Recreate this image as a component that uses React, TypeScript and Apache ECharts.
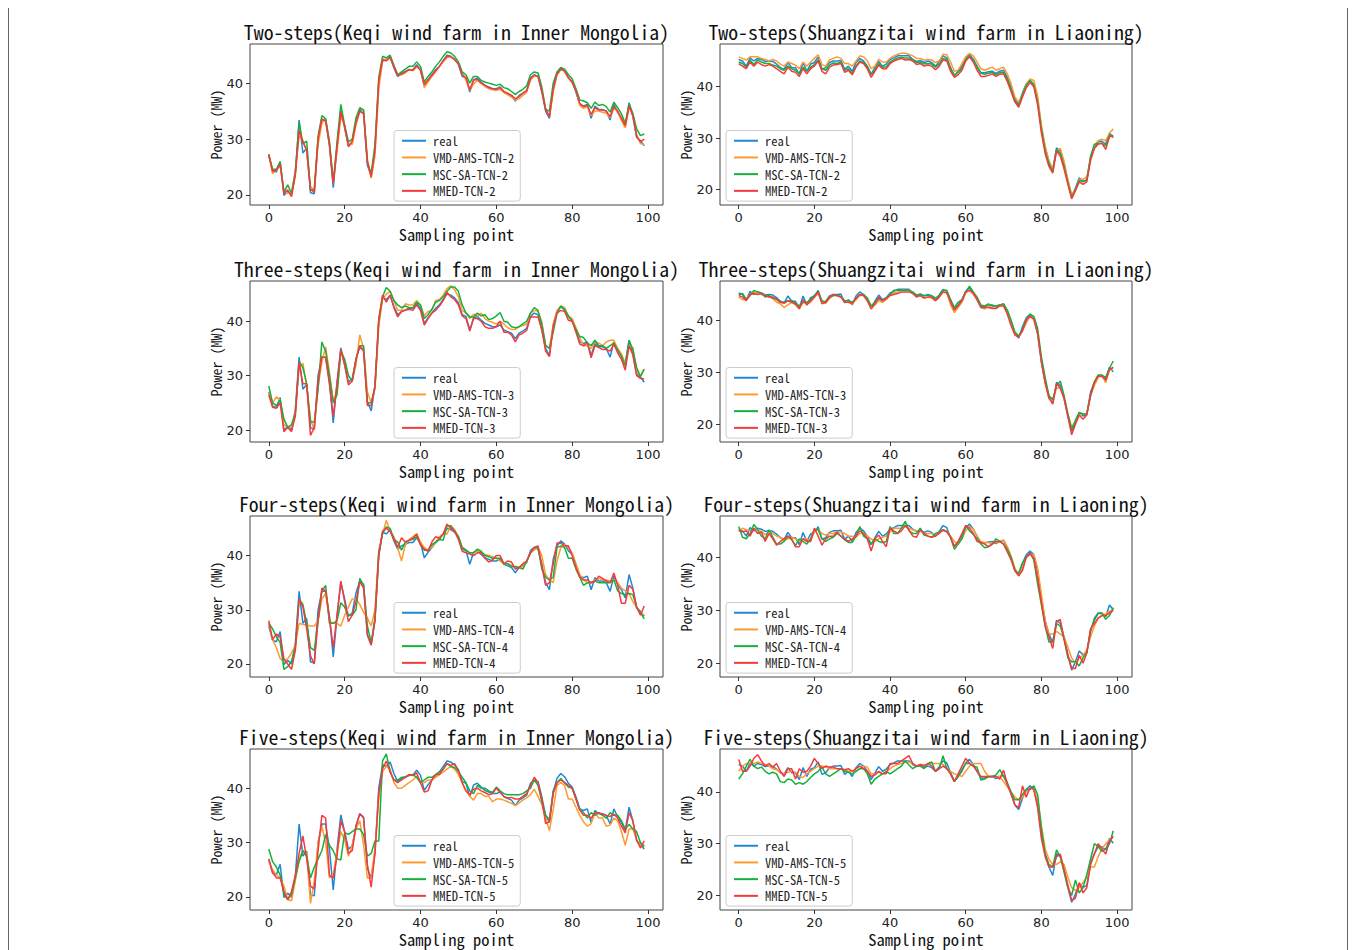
import React, { useEffect, useRef } from "react";
import * as echarts from "echarts";

// ---------------- DATA ----------------
const stepWords = ["Two", "Three", "Four", "Five"];
const stepNums = [2, 3, 4, 5];
const xTicks = [0, 20, 40, 60, 80, 100];
const yTicks = [20, 30, 40];

const K_real = [
  27.0,24.4,24.1,26.0,19.9,20.7,20.0,23.8,33.4,27.5,
  28.4,20.4,20.2,30.0,33.4,33.4,28.8,21.3,28.8,35.1,
  32.0,28.8,29.4,33.1,35.3,34.7,25.3,23.5,28.1,40.0,
  44.3,44.0,44.8,42.7,41.2,41.8,42.1,42.4,42.4,43.3,
  42.4,39.6,40.6,41.5,42.4,43.0,44.0,45.0,44.8,44.3,
  43.4,41.2,40.9,38.4,40.6,40.9,40.2,39.6,39.3,39.0,
  39.0,39.3,38.4,38.1,37.8,36.8,37.8,38.2,38.7,40.9,
  41.5,41.2,38.4,35.0,33.7,39.3,41.8,42.7,42.1,40.9,
  40.2,38.4,36.2,35.9,36.2,33.7,35.9,35.3,35.3,35.0,
  33.4,36.2,34.7,33.7,32.2,36.5,34.0,30.3,29.7,28.8,
];
const K2_vmd = [
  27.2,23.8,24.5,25.2,20.6,20.3,20.4,24.5,30.5,29.8,
  27.8,21.5,20.8,29.0,32.8,33.6,29.5,22.4,27.8,34.0,
  32.5,29.2,29.0,32.5,34.9,35.0,26.4,23.0,27.0,39.0,
  43.8,44.3,44.5,43.0,41.5,41.5,41.8,42.5,42.2,42.9,
  42.6,39.2,40.2,41.2,42.0,43.0,43.8,44.6,44.8,44.2,
  43.6,41.8,40.5,38.7,39.8,40.5,40.0,39.4,39.0,38.8,
  38.7,38.9,38.3,37.9,37.5,37.0,37.2,37.8,38.4,40.5,
  41.3,41.2,38.8,35.5,34.0,38.4,41.5,42.4,42.2,41.0,
  40.0,38.8,36.0,35.5,35.8,34.2,35.0,35.0,34.8,34.6,
  33.8,35.5,34.9,33.3,32.0,35.6,34.4,30.8,29.2,29.0,
];
const K2_msc = [
  27.2,24.6,24.6,25.9,20.5,21.8,20.3,24.0,33.0,29.2,
  29.6,20.8,21.0,30.5,34.2,33.6,29.5,22.2,29.5,36.2,
  32.5,29.5,30.0,33.8,35.6,35.2,25.8,23.8,29.0,41.0,
  44.8,44.5,45.0,43.2,41.5,42.0,42.5,43.0,43.0,43.8,
  43.0,40.2,41.2,42.0,43.0,43.8,44.8,45.6,45.4,44.8,
  43.8,42.0,41.5,40.0,41.2,41.2,40.5,40.2,40.0,39.8,
  39.6,39.8,39.2,39.0,38.5,38.0,38.5,38.9,39.5,41.5,
  42.0,41.8,39.3,35.3,35.0,40.0,42.0,42.8,42.5,41.5,
  40.8,39.0,37.0,36.8,36.5,35.5,36.6,36.0,36.2,35.8,
  34.8,36.6,35.6,34.5,32.8,36.3,34.6,31.8,30.6,30.9,
];
const K2_mmed = [
  27.3,24.2,24.4,25.5,20.3,20.9,19.7,23.5,31.5,29.5,
  28.0,21.0,20.5,30.0,33.6,33.2,29.0,22.0,28.5,34.8,
  32.3,28.6,29.6,32.9,35.0,34.5,26.0,23.2,28.0,40.5,
  44.2,44.0,44.6,42.9,41.3,41.6,42.0,42.4,42.3,43.1,
  42.3,39.8,40.5,41.4,42.2,43.0,44.0,44.8,44.7,44.2,
  43.4,41.5,41.0,38.8,40.5,40.7,40.0,39.6,39.2,39.0,
  38.9,39.2,38.5,38.2,37.8,37.2,37.6,38.2,38.6,40.8,
  41.4,41.2,38.6,35.3,34.0,38.9,41.6,42.5,42.2,41.0,
  40.2,38.6,36.4,35.8,36.0,34.4,35.6,35.2,35.2,35.0,
  34.0,35.8,35.0,33.7,32.4,35.9,34.2,30.5,29.5,30.0,
];
const K3_vmd = [
  27.0,25.0,26.1,25.5,21.0,20.5,20.5,23.5,31.5,32.3,
  28.0,22.0,20.0,28.0,32.5,35.3,30.5,25.5,27.0,34.5,
  33.0,30.0,29.0,32.0,37.5,35.0,27.0,25.0,27.5,39.0,
  44.0,45.0,45.5,43.8,42.0,42.0,43.2,43.0,43.0,43.8,
  43.0,41.0,41.8,42.0,43.8,44.0,44.8,46.0,46.5,45.8,
  44.5,42.0,41.5,40.5,41.3,41.0,41.5,40.5,40.0,39.8,
  39.5,40.0,39.5,38.8,38.5,38.5,39.0,39.2,39.5,41.5,
  42.0,41.8,39.8,35.5,35.0,39.5,42.0,42.8,42.5,41.0,
  40.5,38.8,37.0,35.5,35.5,35.0,36.2,36.0,35.5,36.2,
  36.5,36.5,35.0,34.0,32.2,35.5,35.2,30.8,30.0,31.2,
];
const K3_msc = [
  28.1,25.0,24.5,25.5,22.0,20.5,21.0,23.0,32.5,31.5,
  28.5,21.5,21.5,27.5,36.2,34.5,30.0,25.0,26.5,34.5,
  33.0,30.0,29.0,33.0,35.5,35.5,25.0,25.0,28.0,40.0,
  44.5,46.2,45.5,43.8,43.0,42.5,42.8,42.5,42.5,43.5,
  43.0,40.5,41.2,42.2,43.5,43.8,44.5,45.5,46.3,46.3,
  45.5,43.0,41.5,40.8,40.8,41.5,41.0,41.2,40.3,40.5,
  41.0,41.6,40.0,39.8,39.0,38.8,39.0,39.5,40.0,41.5,
  42.5,42.0,39.5,35.5,35.0,38.0,41.5,42.8,42.2,41.0,
  40.0,38.5,37.2,37.0,36.0,35.5,36.5,35.5,35.5,35.0,
  35.5,36.0,34.8,33.5,31.8,36.5,34.8,31.5,29.8,31.2,
];
const K3_mmed = [
  26.5,24.2,24.0,25.0,19.7,20.5,19.7,22.5,32.5,28.5,
  28.5,19.0,20.5,29.0,33.5,33.3,28.5,22.5,28.5,34.8,
  32.0,28.3,29.0,33.0,35.5,34.5,24.5,24.5,28.0,40.5,
  44.8,43.5,44.8,42.5,40.8,41.8,42.0,42.2,42.0,43.0,
  42.0,39.3,40.5,41.5,42.0,42.8,43.8,45.3,44.5,44.0,
  43.0,41.0,40.5,38.2,40.5,40.5,40.0,39.0,38.7,38.7,
  39.0,40.0,38.0,38.0,37.5,36.2,37.5,37.8,38.3,40.8,
  40.8,40.8,38.5,34.5,33.5,39.0,41.5,42.0,41.8,40.2,
  40.0,38.0,35.8,35.5,36.0,33.3,35.5,35.2,34.8,34.8,
  34.5,35.8,34.2,33.0,31.0,35.5,33.8,30.0,29.5,29.4,
];
const K4_vmd = [
  27.5,24.5,23.0,21.0,20.5,21.0,22.0,23.5,27.5,27.3,
  27.2,27.0,27.0,28.0,32.0,33.0,28.0,27.5,27.5,27.0,
  29.0,30.5,32.0,32.0,31.0,29.5,28.5,27.0,30.0,41.0,
  44.0,46.5,44.5,43.5,41.5,39.0,42.0,43.0,43.5,44.0,
  42.5,41.5,41.0,41.5,42.5,43.5,44.0,44.0,45.5,44.8,
  43.5,41.5,41.0,40.5,40.5,41.0,40.5,40.2,40.0,39.8,
  39.5,39.0,38.5,38.5,38.2,37.8,37.8,38.0,39.0,40.5,
  41.0,41.5,40.0,36.5,35.5,35.0,39.0,41.5,42.0,41.5,
  40.5,38.5,36.5,35.5,35.0,35.0,35.5,35.8,35.5,35.5,
  35.3,35.5,35.0,34.0,33.5,33.0,31.5,30.5,29.5,29.0,
];
const K4_msc = [
  27.5,26.5,25.0,24.0,19.0,19.5,20.5,23.0,32.0,31.0,
  27.5,23.0,22.5,28.0,33.5,34.5,27.5,27.5,28.0,31.3,
  30.5,29.0,29.0,30.0,35.8,34.5,27.0,24.0,28.5,40.5,
  44.0,45.3,45.0,43.0,42.5,41.0,42.5,42.8,43.0,43.5,
  42.0,41.0,41.0,42.0,42.5,43.0,42.8,45.5,45.5,44.5,
  43.5,41.5,41.0,40.5,40.5,41.2,40.8,40.0,39.8,39.5,
  39.5,39.5,38.5,38.5,38.0,38.0,37.8,37.5,39.0,40.5,
  41.5,41.5,37.5,36.0,35.5,36.0,41.5,41.8,41.5,39.5,
  39.5,37.5,36.0,34.5,35.0,35.0,35.3,35.0,35.0,35.0,
  35.0,35.5,33.5,33.0,32.8,33.0,32.8,30.5,29.5,28.3,
];
const K4_mmed = [
  28.0,24.5,25.5,25.0,21.0,20.0,19.0,22.5,32.0,30.5,
  26.5,21.5,20.0,28.0,34.0,33.5,28.5,23.0,29.0,35.3,
  31.5,27.8,29.0,31.5,35.2,34.0,25.5,23.5,28.0,40.0,
  44.5,45.0,44.5,43.0,41.5,43.3,42.5,42.8,43.2,44.0,
  42.0,41.2,40.8,42.5,43.5,43.2,44.0,45.8,45.0,44.5,
  43.0,40.8,40.5,40.3,40.0,40.5,40.5,39.5,38.8,39.2,
  40.0,40.0,38.5,39.0,38.8,37.5,37.8,38.5,39.0,40.5,
  41.5,41.8,38.0,34.5,35.0,38.5,42.3,42.3,41.8,41.8,
  40.0,37.8,36.0,35.5,35.5,35.0,35.2,36.2,35.8,35.3,
  35.0,36.8,34.5,31.2,31.2,34.5,33.8,30.5,29.0,30.7,
];
const K5_vmd = [
  26.5,25.0,24.0,23.5,22.0,19.5,19.3,23.0,27.0,28.5,
  28.0,18.8,23.0,30.0,33.0,30.0,23.5,24.0,28.5,32.0,
  30.5,27.5,29.5,32.5,34.0,29.5,23.5,23.5,29.0,38.0,
  43.0,44.0,43.5,41.0,40.0,40.0,40.5,41.0,41.5,42.2,
  41.2,41.0,41.5,41.5,42.0,42.5,43.0,43.5,44.0,43.5,
  42.5,41.0,39.5,38.5,37.8,39.0,39.0,38.5,38.5,37.5,
  38.0,38.0,37.8,37.5,37.2,36.8,37.3,37.8,38.2,38.8,
  39.8,38.5,37.0,34.5,32.2,36.0,40.5,41.0,40.5,38.0,
  38.0,36.5,35.0,33.8,33.0,33.5,35.5,34.5,34.5,33.0,
  33.2,34.5,34.0,32.0,29.5,32.5,32.5,30.5,29.5,29.5,
];
const K5_msc = [
  28.8,26.5,25.5,24.0,20.5,19.5,20.5,23.5,26.5,28.5,
  27.5,23.5,25.5,27.0,28.5,31.5,29.5,28.5,27.0,26.8,
  31.8,31.5,32.0,32.5,32.5,31.5,27.5,28.0,30.3,30.3,
  45.0,46.3,43.0,41.5,41.5,42.0,42.0,42.3,42.5,42.0,
  41.0,41.5,42.0,42.0,42.5,43.0,43.5,44.5,44.0,43.8,
  43.0,42.0,41.0,39.5,39.0,40.5,40.0,40.0,39.5,39.2,
  40.2,39.5,39.0,38.8,38.8,38.8,38.8,39.0,39.5,40.0,
  41.5,40.5,37.5,35.0,34.2,39.5,41.0,41.8,41.0,40.2,
  40.0,38.0,36.0,35.5,34.5,35.5,35.0,35.5,35.0,34.5,
  35.5,35.0,35.0,34.0,32.5,33.3,32.5,32.0,30.0,29.3,
];
const K5_mmed = [
  27.0,24.5,23.5,23.5,21.0,19.5,21.0,24.0,28.0,31.2,
  27.0,22.0,21.5,28.5,35.0,34.5,24.0,23.5,27.5,34.0,
  32.0,28.0,28.5,33.0,35.3,34.5,26.0,21.8,28.0,39.0,
  43.5,45.0,43.0,41.5,41.0,41.5,42.0,42.5,42.3,42.8,
  41.0,39.3,39.5,41.5,42.5,42.5,43.5,44.5,44.2,44.5,
  43.2,41.0,39.5,38.8,39.8,40.0,39.5,39.2,38.8,39.0,
  40.0,39.2,38.5,38.2,38.3,38.0,38.0,38.5,39.0,40.5,
  42.0,41.0,38.0,33.5,33.8,39.0,41.0,41.5,41.0,40.5,
  40.0,38.0,36.0,35.0,35.0,34.5,35.5,35.5,35.2,35.0,
  34.8,35.2,34.5,33.0,31.8,35.5,34.0,30.5,29.0,30.3,
];

const S_real = [
  45.3,45.0,44.0,45.6,45.0,45.5,45.3,44.9,45.0,44.9,
  44.4,43.7,43.4,44.7,43.7,43.7,42.4,44.7,43.0,44.4,
  44.7,45.8,43.4,43.7,44.7,45.0,45.0,45.1,43.4,44.0,
  43.0,44.7,45.5,45.0,44.0,42.4,43.7,44.9,44.0,44.4,
  45.3,45.6,46.0,46.0,46.0,46.0,45.3,44.9,45.1,44.7,
  45.0,44.7,44.0,44.9,46.0,45.6,43.7,42.1,43.0,44.0,
  45.6,46.3,45.3,44.0,42.7,42.7,42.9,43.0,42.6,43.0,
  43.2,41.8,39.8,37.5,36.6,38.8,40.5,41.2,40.5,37.5,
  32.0,28.1,25.5,23.9,28.1,27.5,24.9,21.6,18.7,20.3,
  22.3,21.6,21.9,26.2,28.1,29.4,29.4,28.8,31.0,30.1,
];
const S2_vmd = [
  45.8,45.5,45.2,45.8,45.8,45.8,45.5,45.3,45.0,45.3,
  45.0,44.4,44.0,44.8,44.5,44.2,43.5,44.8,44.0,44.8,
  45.5,46.2,44.3,44.0,45.2,45.5,45.8,45.5,44.5,44.5,
  44.0,45.0,46.0,45.8,45.0,43.5,44.0,45.3,44.8,44.8,
  45.5,46.0,46.3,46.5,46.5,46.3,46.0,45.5,45.5,45.2,
  45.3,45.2,44.7,45.0,46.3,46.2,44.8,43.0,43.2,44.5,
  45.8,46.5,46.0,44.8,43.5,43.2,43.5,43.8,43.2,43.5,
  43.8,42.5,40.5,38.0,37.0,38.5,40.5,41.5,41.2,38.2,
  32.5,28.5,25.5,24.0,27.5,28.0,25.5,22.0,19.0,20.0,
  22.0,22.0,22.5,25.5,28.5,29.5,29.8,29.5,31.0,31.8,
];
const S2_msc = [
  44.8,44.5,43.8,45.2,44.3,45.2,44.8,44.5,44.5,44.2,
  44.0,43.5,43.2,44.0,43.5,43.2,42.6,43.8,43.0,43.8,
  44.3,45.2,43.5,43.2,44.2,44.6,44.5,44.8,43.2,43.5,
  42.6,44.0,45.0,44.7,43.8,42.4,43.2,44.5,43.8,43.9,
  44.8,45.2,45.6,45.7,45.6,45.6,45.2,44.7,44.8,44.4,
  44.5,44.4,43.8,44.4,45.5,45.3,43.5,42.2,42.8,43.6,
  45.2,46.0,45.1,43.8,42.6,42.4,42.6,42.8,42.3,42.7,
  42.8,41.5,39.5,37.2,36.3,38.5,40.3,41.2,40.3,37.0,
  31.8,27.5,25.0,23.5,27.8,27.0,24.5,21.3,18.5,20.0,
  21.8,21.5,21.8,26.5,28.8,29.0,29.0,28.5,30.5,30.5,
];
const S2_mmed = [
  44.5,44.0,43.5,44.8,44.0,44.8,44.3,44.0,44.3,44.0,
  43.5,43.0,42.5,43.8,43.0,42.8,42.0,43.5,42.5,43.5,
  44.0,45.0,43.0,42.5,43.8,44.2,44.3,44.5,42.8,43.2,
  42.3,43.8,44.8,44.5,43.5,41.8,43.0,44.2,43.5,43.5,
  44.5,45.0,45.3,45.5,45.2,45.3,45.0,44.3,44.5,44.0,
  44.2,44.0,43.3,44.0,45.2,45.0,43.0,41.8,42.3,43.2,
  45.0,45.8,44.8,43.2,42.0,42.0,42.2,42.5,42.0,42.4,
  42.5,41.0,39.0,37.0,36.0,38.0,39.8,40.8,40.0,36.5,
  31.0,27.0,24.5,23.2,27.5,26.5,24.0,21.0,18.2,19.8,
  21.5,21.0,21.5,25.8,28.0,28.8,29.0,27.8,30.3,30.3,
];
const S3_vmd = [
  44.5,44.0,44.2,45.0,45.5,45.3,45.0,44.7,44.5,44.2,
  43.5,43.2,42.5,43.0,43.5,43.0,42.2,43.5,43.2,43.5,
  44.5,45.2,43.5,43.3,44.2,44.8,44.8,44.5,43.8,43.5,
  43.2,44.0,44.8,44.8,43.8,42.5,43.0,43.8,43.5,44.0,
  45.0,45.3,45.5,45.8,45.8,45.8,45.3,44.8,44.8,44.3,
  44.5,44.3,43.8,44.5,45.5,45.5,43.0,41.5,42.5,43.5,
  45.3,45.8,45.0,44.0,42.5,42.2,42.8,42.5,42.8,43.0,
  43.0,41.5,39.5,37.3,37.0,38.0,39.5,40.8,40.5,37.5,
  32.5,28.0,25.0,24.5,27.0,27.0,25.0,22.0,19.5,20.5,
  21.8,22.0,22.0,25.5,27.5,29.0,29.5,28.0,30.5,30.8,
];
const S3_msc = [
  45.0,45.2,44.0,44.8,45.8,45.5,45.3,44.5,44.8,44.3,
  44.2,43.5,43.5,43.8,43.8,43.3,42.8,43.5,43.5,44.0,
  44.8,45.5,43.8,43.5,44.5,44.8,44.8,44.6,43.8,43.8,
  43.5,44.2,45.0,45.0,44.3,42.8,43.5,44.2,43.8,44.3,
  45.0,45.8,45.8,45.8,45.8,45.8,45.5,44.8,45.0,44.8,
  44.8,44.8,44.3,44.8,45.8,45.8,44.0,42.5,43.5,44.0,
  45.5,46.6,45.5,44.5,43.0,42.8,43.2,42.8,42.8,43.0,
  43.2,42.0,40.0,37.8,37.0,38.3,40.0,41.2,40.8,38.5,
  33.0,29.0,25.5,24.8,27.5,28.3,25.5,22.0,19.0,20.8,
  22.3,22.0,22.0,25.5,28.2,29.5,29.5,29.0,30.8,32.2,
];
const S3_mmed = [
  44.8,44.5,43.8,45.0,45.2,45.0,45.2,44.8,44.5,44.5,
  44.0,43.5,43.3,43.8,43.5,43.2,42.3,44.0,43.0,43.8,
  44.5,45.5,43.2,43.5,44.5,45.0,44.8,44.5,43.5,43.5,
  43.3,44.3,45.0,44.8,43.8,42.2,43.2,44.5,43.8,44.2,
  44.8,45.0,45.2,45.5,45.5,45.5,45.2,44.5,44.8,44.3,
  44.5,44.5,43.8,44.5,45.5,45.3,43.5,42.0,42.8,43.8,
  45.5,45.8,45.3,44.0,42.5,42.5,42.5,42.3,42.3,42.8,
  42.8,41.2,39.0,37.2,36.8,38.0,40.2,40.8,40.2,37.5,
  32.0,28.0,25.0,24.0,27.8,27.0,25.0,21.5,18.0,20.0,
  21.8,21.0,21.8,25.8,28.0,29.3,29.2,28.5,30.5,31.0,
];
const S4_vmd = [
  45.0,45.5,45.2,45.0,45.3,45.3,44.8,44.3,44.8,44.5,
  44.0,43.8,43.2,43.5,43.8,43.5,43.0,43.5,43.5,43.2,
  44.8,45.3,44.5,44.2,44.5,44.5,44.8,44.8,44.5,44.0,
  44.0,43.8,44.5,44.5,44.0,43.5,43.0,43.5,43.8,44.0,
  44.8,45.5,45.5,45.5,45.8,45.5,45.2,45.0,45.0,44.5,
  44.5,44.5,44.2,44.8,45.0,45.0,44.0,43.0,42.5,43.5,
  45.0,45.8,45.3,44.0,43.0,42.8,42.8,42.5,42.8,43.0,
  43.3,42.0,40.2,38.0,36.5,38.0,40.0,40.5,40.5,38.0,
  33.0,28.0,25.5,25.5,26.0,25.5,25.0,23.0,21.0,20.0,
  21.0,21.5,22.5,25.0,27.0,28.5,29.0,29.3,29.8,30.0,
];
const S4_msc = [
  45.8,43.8,43.5,44.5,46.2,45.2,44.0,43.5,45.2,43.8,
  42.5,42.5,43.0,44.0,43.3,42.2,43.5,43.0,42.5,43.5,
  45.3,45.2,43.5,43.0,43.5,43.8,44.5,44.0,43.3,42.8,
  42.8,44.0,45.8,44.0,43.5,42.5,43.5,43.0,42.8,43.0,
  45.8,44.5,44.5,45.5,46.8,45.0,44.5,44.5,45.5,44.2,
  44.0,43.8,44.5,44.8,45.2,44.8,43.8,41.5,42.5,43.5,
  46.0,45.0,44.3,43.5,42.5,41.8,42.0,42.5,43.5,43.0,
  42.5,41.5,40.0,37.5,37.0,39.0,40.0,40.8,39.5,35.0,
  31.0,27.0,24.0,24.0,27.5,27.0,24.5,21.0,20.3,20.3,
  19.5,21.0,22.0,26.0,28.5,29.5,29.5,28.3,29.0,30.5,
];
const S4_mmed = [
  45.0,44.8,45.0,44.0,45.5,44.5,44.8,43.0,44.5,43.5,
  42.3,43.0,43.5,44.0,43.5,42.0,42.0,43.5,43.0,43.0,
  45.5,44.0,42.3,43.5,44.0,44.0,44.8,44.0,43.5,43.0,
  43.5,44.0,45.0,44.5,43.5,41.2,43.5,44.2,43.0,42.0,
  45.5,45.0,44.5,45.0,46.0,45.2,44.0,43.8,45.2,44.5,
  44.0,43.8,44.0,44.5,45.2,44.8,43.8,42.0,43.0,44.5,
  46.0,45.5,44.5,43.0,42.8,42.5,42.0,42.5,43.0,43.0,
  42.5,41.0,39.5,37.5,36.5,37.5,40.0,40.8,39.8,36.0,
  31.5,27.0,25.0,22.8,27.8,28.3,24.5,21.5,19.0,19.0,
  21.5,20.0,22.0,26.5,27.5,28.5,29.0,29.0,29.5,30.0,
];
const S5_vmd = [
  44.0,45.0,45.5,45.5,45.5,45.8,45.5,45.3,45.0,44.5,
  44.3,43.8,43.5,43.8,44.0,43.8,43.0,42.8,43.5,44.0,
  44.5,45.0,45.0,44.8,44.5,44.5,44.5,44.5,44.3,44.0,
  44.0,44.0,44.5,45.0,44.8,43.5,43.5,43.8,43.5,43.8,
  44.5,45.0,45.3,45.5,45.8,45.8,45.5,45.0,45.3,45.3,
  45.3,45.5,45.5,45.5,45.3,44.5,44.0,43.5,43.3,43.0,
  44.0,45.0,45.5,45.5,45.5,44.0,43.0,43.0,43.0,43.0,
  42.0,41.0,40.0,39.0,38.5,39.0,40.0,40.8,40.5,38.5,
  33.5,29.0,27.0,26.0,26.0,26.5,26.0,23.5,21.5,21.0,
  21.5,22.5,23.5,25.5,25.5,27.5,29.0,30.0,30.8,31.2,
];
const S5_msc = [
  42.5,43.5,45.0,46.3,45.0,44.5,44.8,44.0,43.5,43.8,
  43.5,42.0,41.8,42.5,42.3,41.5,41.8,41.5,42.0,42.8,
  43.5,44.0,44.8,43.5,43.0,43.5,44.0,44.5,44.0,43.8,
  43.5,44.0,44.5,44.5,43.5,41.5,42.5,43.0,43.5,44.0,
  43.5,44.0,44.5,45.0,46.0,45.2,44.5,45.0,45.0,44.5,
  45.5,45.8,44.0,44.5,47.0,44.5,43.5,42.0,43.0,44.3,
  45.5,45.5,45.0,44.8,42.3,42.5,43.0,43.0,43.3,44.3,
  43.0,41.5,40.0,38.5,38.5,39.5,40.5,40.5,41.2,39.5,
  33.0,28.0,26.0,25.5,28.8,27.5,24.5,21.5,20.0,23.0,
  20.5,21.5,24.0,27.0,30.0,29.5,28.5,29.0,30.0,32.5,
];
const S5_mmed = [
  46.3,44.0,44.0,45.0,46.5,47.2,46.0,45.0,45.5,44.8,
  45.5,44.0,43.0,44.5,44.5,42.5,44.5,43.8,44.0,45.0,
  46.5,45.5,44.5,45.0,44.8,44.8,44.5,44.5,44.3,44.5,
  44.0,44.5,45.0,44.5,44.0,43.0,43.3,44.0,43.5,43.5,
  45.5,45.5,45.5,46.0,46.5,47.0,45.5,45.0,45.3,45.0,
  45.5,45.0,44.0,44.5,45.0,44.5,43.5,42.0,43.5,45.0,
  46.5,45.5,45.0,44.0,43.0,43.0,43.0,43.0,43.0,42.5,
  44.2,41.5,39.5,37.5,37.0,41.2,39.0,40.8,40.5,37.0,
  31.0,27.5,25.5,25.5,27.5,28.0,25.0,22.0,19.0,19.5,
  22.5,20.5,21.5,26.0,28.0,30.0,29.0,28.0,30.5,31.5,
];

const keqiPreds = [
  [K2_vmd, K2_msc, K2_mmed],
  [K3_vmd, K3_msc, K3_mmed],
  [K4_vmd, K4_msc, K4_mmed],
  [K5_vmd, K5_msc, K5_mmed],
];
const shuangPreds = [
  [S2_vmd, S2_msc, S2_mmed],
  [S3_vmd, S3_msc, S3_mmed],
  [S4_vmd, S4_msc, S4_mmed],
  [S5_vmd, S5_msc, S5_mmed],
];
const farmTitles = ["Keqi wind farm in Inner Mongolia", "Shuangzitai wind farm in Liaoning"];

// axis ranges per panel [row][col]
const yMinByPanel = [[18.2, 17.0], [17.8, 16.6], [17.6, 17.4], [17.6, 17.2]];
const yMaxByPanel = [[47.0, 48.3], [47.4, 47.6], [47.3, 47.8], [47.2, 48.3]];
const X_MIN = -4.95;
const X_MAX = 103.95;

// ---------------- LAYOUT / STYLE ----------------
const COL_LEFT = [250, 720];
const COL_WIDTH = [413, 412];
const ROW_TOP = [44, 281, 516, 749];
const GRID_H = 161;
const COLORS = ["#1f88d2", "#ff9a30", "#16b03c", "#f53a3c"];
const MONO = "'Noto Sans Mono CJK SC', 'Liberation Mono', monospace";
const SANS = "'DejaVu Sans', sans-serif";

function buildOption() {
  const grid: any[] = [];
  const xAxis: any[] = [];
  const yAxis: any[] = [];
  const series: any[] = [];
  const legend: any[] = [];
  const graphic: any[] = [];

  const allArrays: [string, number[]][] = [["K_real", K_real], ["S_real", S_real]];
  keqiPreds.forEach((r, i) => r.forEach((a, j) => allArrays.push([`K${i}_${j}`, a])));
  shuangPreds.forEach((r, i) => r.forEach((a, j) => allArrays.push([`S${i}_${j}`, a])));
  const bad = allArrays.filter(([, a]) => a.length !== 100).map(([n, a]) => `${n}:${a.length}`);

  graphic.push({
    type: "rect",
    silent: true,
    shape: { x: 8.5, y: 7.5, width: 1339, height: 1000 },
    style: { fill: "none", stroke: "#666", lineWidth: 1 },
  });

  for (let r = 0; r < 4; r++) {
    for (let c = 0; c < 2; c++) {
      const idx = r * 2 + c;
      const left = COL_LEFT[c];
      const width = COL_WIDTH[c];
      const top = ROW_TOP[r];
      grid.push({
        left, top, width, height: GRID_H,
        show: true, borderColor: "#444", borderWidth: 1, backgroundColor: "transparent",
      });
      xAxis.push({
        type: "value", gridIndex: idx, min: X_MIN, max: X_MAX, position: "bottom",
        name: "Sampling point", nameLocation: "middle", nameGap: 21,
        nameTextStyle: { fontFamily: MONO, fontSize: 16.5, color: "#111" },
        axisLine: { show: false, onZero: false },
        axisTick: { show: true, inside: false, length: 4, lineStyle: { color: "#333", width: 1 }, customValues: xTicks },
        axisLabel: { show: true, margin: 6, fontFamily: SANS, fontSize: 13, color: "#222", customValues: xTicks },
        splitLine: { show: false },
      });
      yAxis.push({
        type: "value", gridIndex: idx, min: yMinByPanel[r][c], max: yMaxByPanel[r][c], position: "left",
        name: "Power (MW)", nameLocation: "middle", nameGap: 23,
        nameTextStyle: { fontFamily: MONO, fontSize: 14, color: "#111" },
        axisLine: { show: false, onZero: false },
        axisTick: { show: true, inside: false, length: 4, lineStyle: { color: "#333", width: 1 }, customValues: yTicks },
        axisLabel: { show: true, margin: 7, fontFamily: SANS, fontSize: 13, color: "#222", customValues: yTicks },
        splitLine: { show: false },
      });
      const n = stepNums[r];
      const names = ["real", `VMD-AMS-TCN-${n}`, `MSC-SA-TCN-${n}`, `MMED-TCN-${n}`];
      const real = c === 0 ? K_real : S_real;
      const preds = c === 0 ? keqiPreds[r] : shuangPreds[r];
      const arrs = [real, ...preds];
      arrs.forEach((arr, k) => {
        series.push({
          type: "line", name: names[k], xAxisIndex: idx, yAxisIndex: idx,
          data: arr.map((v, i) => [i, v]),
          showSymbol: false, symbol: "none", smooth: false,
          color: COLORS[k],
          lineStyle: { color: COLORS[k], width: 1.5 },
          z: 2 + k,
        });
      });
      const gridBottom = top + GRID_H;
      legend.push({
        data: names,
        orient: "vertical",
        left: c === 0 ? 394 : 726,
        top: gridBottom - 6.5 - 68,
        icon: "rect",
        itemWidth: 24,
        itemHeight: 2,
        itemGap: 4.2,
        padding: [4, 6, 4, 8],
        backgroundColor: "rgba(255,255,255,0.85)",
        borderColor: "#cccccc",
        borderWidth: 1,
        borderRadius: 3,
        selectedMode: false,
        textStyle: { fontFamily: MONO, fontSize: 12.5, color: "#222", lineHeight: 12, padding: [0, 0, 0, 2] },
      });
      graphic.push({
        type: "text",
        silent: true,
        x: left + width / 2,
        y: top - 13,
        style: {
          text: `${stepWords[r]}-steps(${farmTitles[c]})`,
          fontFamily: MONO, fontSize: 19.8, fill: "#111",
          textAlign: "center", textVerticalAlign: "middle",
        },
      });
    }
  }

  if (bad.length) {
    graphic.push({ type: "text", x: 20, y: 20, style: { text: "LEN " + bad.join(" "), fill: "red", fontSize: 14 } });
  }

  return { animation: false, backgroundColor: "#fff", grid, xAxis, yAxis, series, legend, graphic, tooltip: { show: false } };
}

export default function App() {
  const ref = useRef<HTMLDivElement>(null);
  useEffect(() => {
    if (!ref.current) return;
    const chart = echarts.init(ref.current, null, { renderer: "svg" });
    chart.setOption(buildOption());
    return () => chart.dispose();
  }, []);
  return (
    <div
      ref={ref}
      style={{ margin: "-8px 0 0 -8px", width: 1356, height: 950, background: "#fff" }}
    />
  );
}
